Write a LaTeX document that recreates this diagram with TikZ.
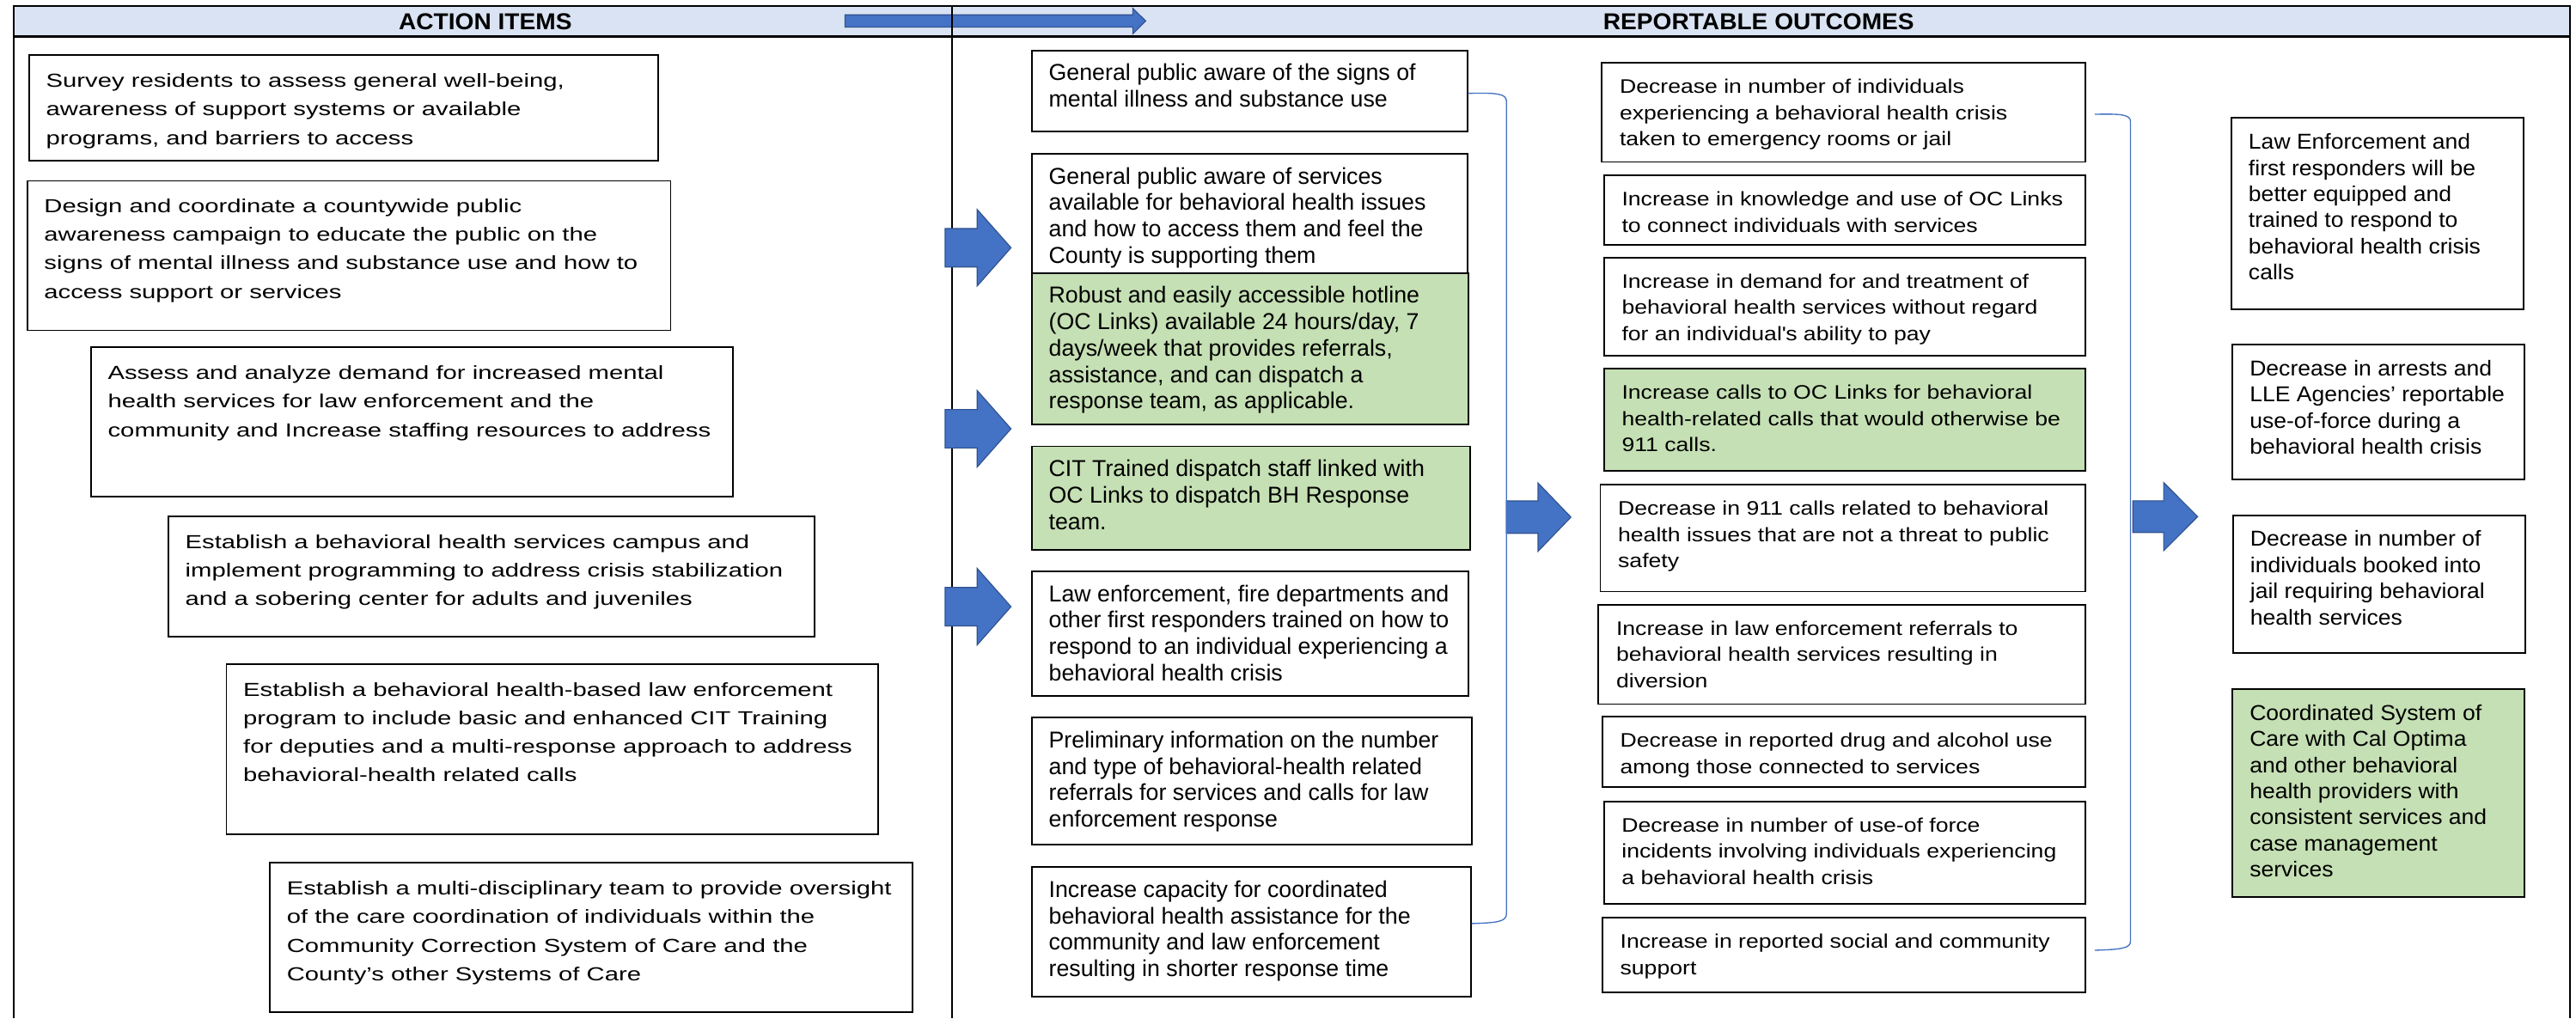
\documentclass[tikz,border=0pt]{standalone}
\usepackage{fontspec}
\setmainfont{Liberation Sans}
\newfontfamily\leftf[FakeStretch=1.33]{Liberation Sans}
\newfontfamily\midf{Liberation Sans}
\newfontfamily\thirdf[FakeStretch=1.17]{Liberation Sans}
\newfontfamily\rightf[FakeStretch=1.06]{Liberation Sans}
\newfontfamily\headf[FakeStretch=1.05]{Liberation Sans}
\usetikzlibrary{calc}
\definecolor{hdrfill}{HTML}{DAE3F3}
\definecolor{boxgreen}{HTML}{C5E0B4}
\definecolor{arrblue}{HTML}{4472C4}
\definecolor{arrline}{HTML}{2F528F}
\hbadness=10000 \hfuzz=50pt
% name x y w h style pad baseline text
\newcommand\mkbox[9]{%
  \node[#6, anchor=north west, inner sep=0pt, minimum width=#4pt, minimum height=#5pt] (#1) at (#2,#3)
   {\parbox[c][#5pt][t]{\dimexpr #4pt-#7pt-#7pt\relax}{\raggedright\rule{0pt}{#8pt}#9}};%
}
% x0 xbase xtip yc halfshaft halfhead
\newcommand\blockarr[6]{%
  \draw[blockarrow] (#1,#4-#5) -- (#2,#4-#5) -- (#2,#4-#6) -- (#3,#4) -- (#2,#4+#6) -- (#2,#4+#5) -- (#1,#4+#5) -- cycle;%
}
\tikzset{
  framel/.style={draw=black, line width=1.1pt},
  leftbox/.style={draw=black, line width=1pt, fill=white, font=\leftf\fontsize{11.5}{17.3}\selectfont},
  midbox/.style={draw=black, line width=1pt, fill=white, font=\midf\fontsize{14}{16.1}\selectfont},
  thirdbox/.style={draw=black, line width=1pt, fill=white, font=\thirdf\fontsize{11.9}{16}\selectfont},
  rightbox/.style={draw=black, line width=1pt, fill=white, font=\rightf\fontsize{13.1}{15.9}\selectfont},
  greenfill/.style={fill=boxgreen},
  headtext/.style={font=\headf\bfseries\fontsize{14}{16}\selectfont, inner sep=0pt, anchor=base},
  blockarrow/.style={fill=arrblue, draw=arrline, line width=0.6pt, line join=miter},
  brk/.style={draw=arrblue, line width=0.7pt}
}
\begin{document}
\begin{tikzpicture}[x=1pt, y=-1pt]
\useasboundingbox (0,0) rectangle (1568,620);
\fill[white] (0,0) rectangle (1568,620);
% header band
\fill[hdrfill] (8.5,3.8) rectangle (1564.5,22.3);
\node[headtext] (hA) at (295.4,18.3) {ACTION ITEMS};
\node[headtext] (hR) at (1070.5,18.3) {REPORTABLE OUTCOMES};
\blockarr{514.3}{689.5}{697.4}{12.8}{3.75}{7.85}
\draw[framel] (8.5,620) -- (8.5,3.8) -- (1564.5,3.8) -- (1564.5,620);
\draw[framel, line width=1.3pt] (8.5,22.3) -- (1564.5,22.3);
\draw[framel] (579.3,3.8) -- (579.3,620);

% ACTION ITEMS
\mkbox{L1}{17.3}{33.1}{382.7}{64.4}{leftbox}{10.3}{19.7}{Survey residents to assess general well-being,\\awareness of support systems or available\\programs, and barriers to access}
\mkbox{L2}{16.1}{109.6}{391.6}{91}{leftbox}{10.3}{19.5}{Design and coordinate a countywide public\\awareness campaign to educate the public on the\\signs of mental illness and substance use and how to\\access support or services}
\mkbox{L3}{54.9}{210.9}{390.8}{90.8}{leftbox}{10.3}{19.7}{Assess and analyze demand for increased mental\\health services for law enforcement and the\\community and Increase staffing resources to address}
\mkbox{L4}{102}{313.9}{393.2}{73.3}{leftbox}{10.3}{19.7}{Establish a behavioral health services campus and\\implement programming to address crisis stabilization\\and a sobering center for adults and juveniles}
\mkbox{L5}{137.3}{403.8}{396.7}{103.7}{leftbox}{10.3}{19.7}{Establish a behavioral health-based law enforcement\\program to include basic and enhanced CIT Training\\for deputies and a multi-response approach to address\\behavioral-health related calls}
\mkbox{L6}{163.8}{524.7}{390.9}{91}{leftbox}{10.3}{19.7}{Establish a multi-disciplinary team to provide oversight\\of the care coordination of individuals within the\\Community Correction System of Care and the\\County’s other Systems of Care}

% middle column
\mkbox{M1}{627.4}{30.3}{265.2}{49.1}{midbox}{10.5}{18.3}{General public aware of the signs of\\mental illness and substance use}
\mkbox{M2}{627.4}{93.2}{265.2}{72.5}{midbox}{10.5}{18.3}{General public aware of services\\available for behavioral health issues\\and how to access them and feel the\\County is supporting them}
\mkbox{M3}{627.4}{165.7}{266.1}{92.1}{midbox,greenfill}{10.5}{18.3}{Robust and easily accessible hotline\\(OC Links) available 24 hours/day, 7\\days/week that provides referrals,\\assistance, and can dispatch a\\response team, as applicable.}
\mkbox{M4}{627.4}{271.2}{267}{62.9}{midbox,greenfill}{10.5}{18.3}{CIT Trained dispatch staff linked with\\OC Links to dispatch BH Response\\team.}
\mkbox{M5}{627.4}{347.4}{266.1}{75.6}{midbox}{10.5}{18.3}{Law enforcement, fire departments and\\other first responders trained on how to\\respond to an individual experiencing a\\behavioral health crisis}
\mkbox{M6}{627.4}{436.4}{268.1}{77.2}{midbox}{10.5}{18.3}{Preliminary information on the number\\and type of behavioral-health related\\referrals for services and calls for law\\enforcement response}
\mkbox{M7}{627.4}{527.4}{267.3}{78.6}{midbox}{10.5}{18.3}{Increase capacity for coordinated\\behavioral health assistance for the\\community and law enforcement\\resulting in shorter response time}

% third column
\mkbox{T1}{974.6}{37.7}{294.2}{60.4}{thirdbox}{10.8}{18.6}{Decrease in number of individuals\\experiencing a behavioral health crisis\\taken to emergency rooms or jail}
\mkbox{T2}{975.9}{106.3}{292.9}{42.2}{thirdbox}{10.8}{18.6}{Increase in knowledge and use of OC Links\\to connect individuals with services}
\mkbox{T3}{975.9}{156.3}{292.9}{59.8}{thirdbox}{10.8}{18.6}{Increase in demand for and treatment of\\behavioral health services without regard\\for an individual\textquotesingle s ability to pay}
\mkbox{T4}{975.9}{224}{292.9}{62.2}{thirdbox,greenfill}{10.8}{18.6}{Increase calls to OC Links for behavioral\\health-related calls that would otherwise be\\911 calls.}
\mkbox{T5}{973.6}{294.6}{295.2}{65}{thirdbox}{10.8}{18.6}{Decrease in 911 calls related to behavioral\\health issues that are not a threat to public\\safety}
\mkbox{T6}{972.5}{367.6}{296.3}{60.5}{thirdbox}{10.8}{18.6}{Increase in law enforcement referrals to\\behavioral health services resulting in\\diversion}
\mkbox{T7}{974.9}{435.8}{293.9}{42.8}{thirdbox}{10.8}{18.6}{Decrease in reported drug and alcohol use\\among those connected to services}
\mkbox{T8}{975.8}{487.3}{293}{62.3}{thirdbox}{10.8}{18.6}{Decrease in number of use-of force\\incidents involving individuals experiencing\\a behavioral health crisis}
\mkbox{T9}{974.9}{558.1}{293.9}{45.5}{thirdbox}{10.8}{18.6}{Increase in reported social and community\\support}

% right column
\mkbox{R1}{1357.8}{71.3}{177.7}{116.6}{rightbox}{10.4}{19}{Law Enforcement and\\first responders will be\\better equipped and\\trained to respond to\\behavioral health crisis\\calls}
\mkbox{R2}{1358.5}{209.2}{177.5}{82.3}{rightbox}{10.4}{19}{Decrease in arrests and\\LLE Agencies’ reportable\\use-of-force during a\\behavioral health crisis}
\mkbox{R3}{1358.8}{313.1}{178}{83.7}{rightbox}{10.4}{19}{Decrease in number of\\individuals booked into\\jail requiring behavioral\\health services}
\mkbox{R4}{1358.5}{418.9}{177.5}{126.8}{rightbox,greenfill}{10.4}{19}{Coordinated System of\\Care with Cal Optima\\and other behavioral\\health providers with\\consistent services and\\case management\\services}

% block arrows
\blockarr{575.3}{594.8}{615.4}{150.8}{11.7}{23.3}
\blockarr{575.3}{594.8}{615.4}{261}{11.7}{23.3}
\blockarr{575.3}{594.8}{615.4}{369.3}{11.7}{23.3}
\blockarr{916.9}{936.2}{956.2}{314.8}{9.85}{20.8}
\blockarr{1298.2}{1317}{1337.7}{314.5}{9.65}{20.75}

% brackets
\draw[brk] ($(M1.east)+(0,1.5)$) .. controls (912,56.4) and (917,57) .. (917,62)
  -- (917,556) .. controls (917,561) and (912,561.7) .. ($(M7.east)+(0,-5)$);
\draw[brk] ($(T1.east)+(5.2,1.2)$) .. controls (1292,69.1) and (1296.8,70) .. (1296.8,74)
  -- (1296.8,573) .. controls (1296.8,577) and (1292,578) .. ($(T9.east)+(5.2,-2.9)$);
\end{tikzpicture}
\end{document}
